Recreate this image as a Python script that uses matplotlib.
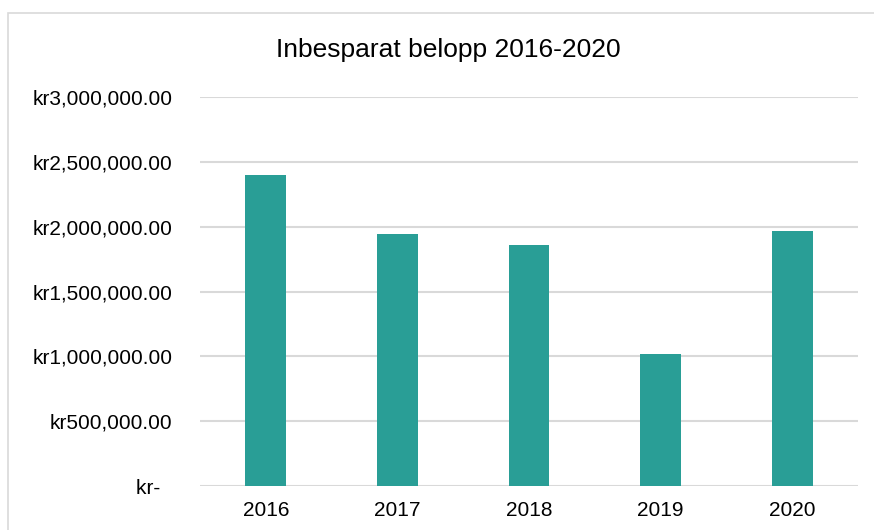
import matplotlib.pyplot as plt
from matplotlib.ticker import FuncFormatter
from matplotlib.patches import Rectangle

years = ['2016', '2017', '2018', '2019', '2020']
amounts = [2400000, 1944000, 1857000, 1019000, 1968000]
y_ticks = [0, 500000, 1000000, 1500000, 2000000, 2500000, 3000000]

plt.rcParams['font.family'] = ['Liberation Sans', 'DejaVu Sans']


def kr_format(v, pos):
    if v == 0:
        return 'kr-  '
    return 'kr{:,.2f}'.format(v)


fig = plt.figure(figsize=(8.74, 5.30), dpi=100)
ax = fig.add_axes([200 / 874, 1 - 486 / 530, 658 / 874, 389 / 530])

# chart frame like the spreadsheet export
fig.patches.append(Rectangle((8 / 874, -0.1), 1.2, 1 - 13 / 530 + 0.1,
                             transform=fig.transFigure, fill=False,
                             edgecolor='#d9d9d9', linewidth=1.2))

ax.bar(years, amounts, width=0.31, color='#299e96', zorder=3)

ax.set_ylim(0, 3000000)
ax.set_xlim(-0.5, 4.5)
ax.set_yticks(y_ticks)
ax.yaxis.set_major_formatter(FuncFormatter(kr_format))
ax.grid(axis='y', color='#d9d9d9', linewidth=1.5, zorder=0)
for s in ax.spines.values():
    s.set_visible(False)
ax.tick_params(axis='both', length=0, labelsize=15, colors='black')
ax.tick_params(axis='y', pad=20)
ax.tick_params(axis='x', pad=11)

fig.text(448 / 874, 1 - 50 / 530, 'Inbesparat belopp 2016-2020',
         ha='center', va='center', fontsize=19)

fig.savefig('out.png', dpi=100)
